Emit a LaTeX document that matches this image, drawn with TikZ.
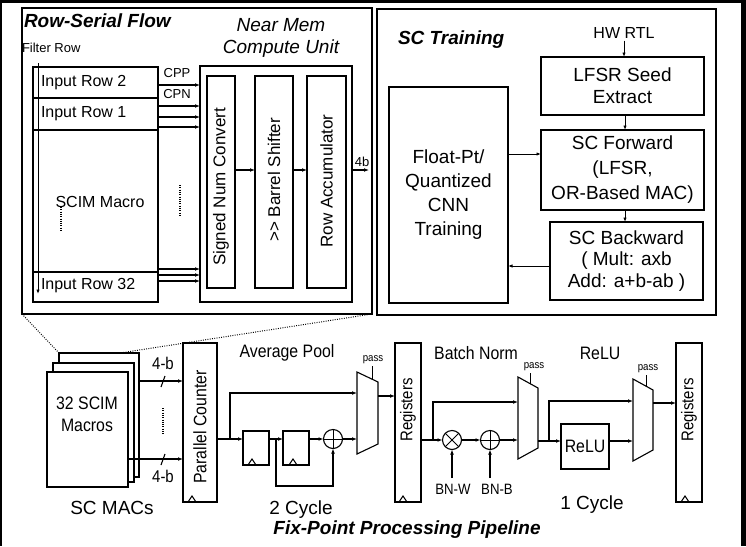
\documentclass[tikz,border=0pt]{standalone}
\usepackage{fontspec}
\setmainfont{Liberation Sans}
\usetikzlibrary{arrows.meta,fit}
\newcommand\fs[2]{\fontsize{#1}{#2}\selectfont}
\newcommand\narrow[1]{\scalebox{0.88}[1]{#1}}
\begin{document}
\begin{tikzpicture}[x=1pt,y=-1pt,line join=miter,
  bx/.style={draw,line width=1.1pt,inner sep=0pt,outer sep=0pt},
  ln/.style={line width=1.1pt},
  arr/.style={line width=1.1pt,-{Latex[length=5pt,width=3.8pt]}},
  thinarr/.style={line width=0.9pt,-{Latex[length=4.5pt,width=3.4pt]}},
  txt/.style={inner sep=0pt,outer sep=0pt},
  dots/.style={line width=1.2pt,dash pattern=on 0.9pt off 1.4pt},
  clk/.style={line width=1pt},
  ttl/.style={txt,font=\fs{19}{22}\bfseries\itshape},
  body/.style={txt,font=\fs{16}{19}},
  big/.style={txt,font=\fs{19}{23},align=center},
  low/.style={txt,font=\fs{18}{21},align=center},
  small/.style={txt,font=\fs{13}{15}},
  tiny/.style={txt,font=\fs{11}{13}},
  sum/.style={draw,circle,line width=1.1pt,minimum size=19pt,inner sep=0pt,outer sep=0pt},
]
\useasboundingbox (0,0) rectangle (746,546);

% outer frame
\fill (0,0) rectangle (746,3);
\fill (741,0) rectangle (746,546);
\draw[line width=1.5pt] (0.75,0) -- (0.75,546);

% ---------------- Row-serial flow panel ----------------
\node[bx,fit={(22,8) (372,314)}] (rsf) {};
\node[ttl,anchor=west] at (24,21) {Row-Serial Flow};
\node[txt,font=\fs{19}{22}\itshape,align=center] at (281,38) {Near Mem\\Compute Unit};
\node[small,anchor=west] at (22,48) {Filter Row};

% SCIM macro with its rows
\node[bx,fit={(33,67) (158,302)}] (mac) {};
\foreach \yy in {98,130,272}
  \draw[ln] (mac.west |- 0,\yy) -- (mac.east |- 0,\yy);
\node[body,anchor=west] at (41,83) {Input Row 2};
\node[body,anchor=west] at (41,114) {Input Row 1};
\node[body] at (100,202) {SCIM Macro};
\node[body,anchor=west] at (41,286) {Input Row 32};
\draw[dots] (61,207) -- (61,231);
\coordinate (fr0) at (38,63);
\coordinate (fr1) at (38,294);
\draw[thinarr] (fr0) -- (fr1);

% near-memory compute unit
\node[bx,fit={(200,66) (352,302)}] (cu) {};
\node[bx,fit={(207,76) (235,288)}] (snc) {};
\node[bx,fit={(255,76) (293,288)}] (bsh) {};
\node[bx,fit={(307,76) (346,288)}] (racc) {};
\node[txt,font=\fs{17}{19},rotate=90] at (221,187) {Signed Num Convert};
\node[txt,font=\fs{17}{19},rotate=90] at (274,180) {>{}> Barrel Shifter};
\node[txt,font=\fs{17}{19},rotate=90] at (326.5,181) {Row Accumulator};
\draw[arr] (snc.east |- 0,170) -- (bsh.west |- 0,170);
\draw[arr] (bsh.east |- 0,170) -- (racc.west |- 0,170);
\coordinate (out4b) at (369,170);
\draw[arr] (cu.east |- 0,170) -- (out4b);
\node[small] at (362,162) {4b};

% row bit-lines into the compute unit
\foreach \yy in {85,106,117,127,269,275,281}
  \draw[arr] (mac.east |- 0,\yy) -- (cu.west |- 0,\yy);
\node[small] at (177,73) {CPP};
\node[small] at (177,94) {CPN};
\draw[dots] (180,185) -- (180,217);

% ---------------- SC training panel ----------------
\node[bx,fit={(377,9) (716,315)}] (sct) {};
\node[ttl,anchor=west] at (398,40) {SC Training};
\node[txt,font=\fs{16}{19}] (hw) at (624,33) {HW RTL};
\node[bx,fit={(541,57) (704,115)}] (lfsr) {};
\node[bx,fit={(541,130) (704,210)}] (fwd) {};
\node[bx,fit={(550,222) (703,300)}] (bwd) {};
\node[bx,fit={(389,87) (508,303)}] (flt) {};
\node[big,font=\fs{19}{22}] at (lfsr.center) {LFSR Seed\\Extract};
\node[big,font=\fs{19}{25}] at (fwd.center) {SC Forward\\(LFSR,\\OR-Based MAC)};
\node[big,font=\fs{19}{21.5}] at (bwd.center) {SC Backward\\( Mult: axb\\Add: a+b-ab )};
\node[big,font=\fs{19}{24}] at (flt.center) {Float-Pt/\\Quantized\\CNN\\Training};
\draw[thinarr] ([yshift=-2pt]hw.south) -- (hw.south |- lfsr.north);
\draw[thinarr] (lfsr.south -| 625,0) -- (fwd.north -| 625,0);
\draw[thinarr] (fwd.south -| 625,0) -- (bwd.north -| 625,0);
\draw[thinarr] (flt.east |- 0,154) -- (fwd.west |- 0,154);
\draw[thinarr] (bwd.west |- 0,266) -- (flt.east |- 0,266);

% ---------------- fixed-point pipeline ----------------
% stacked SC MAC macros
\node[bx,fill=white,fit={(59,353) (139,477)}] (mc3) {};
\node[bx,fill=white,fit={(53,363) (134,482)}] (mc2) {};
\node[bx,fill=white,fit={(47,372) (128,487)}] (mc1) {};
\node[low,font=\fs{18}{22}] at (87,414) {\narrow{32 SCIM}\\\narrow{Macros}};
\node[low,font=\fs{19}{22}] at (112,508) {SC MACs};

% zoom guides from the panel to the macro stack
\coordinate (zA) at (59,353);
\coordinate (zB) at (120,353);
\draw[dots,line width=1pt] (rsf.south west) -- (zA);
\draw[dots,line width=1pt] (rsf.south east) -- (zB);

% parallel counter
\node[bx,fill=white,fit={(183,343) (217,502)}] (pc) {};
\node[txt,font=\fs{18}{20},rotate=90] at (200,427) {\narrow{Parallel Counter}};
\draw[clk] (188,502) -- (192,496) -- (196,502);
\draw[arr] (mc3.east |- 0,381) -- (pc.west |- 0,381);
\draw[arr] (mc1.east |- 0,459) -- (pc.west |- 0,459);
\draw[ln] (161,387) -- (165,376);
\draw[ln] (161,465) -- (165,454);
\node[low,font=\fs{17}{20}] at (163,363) {\narrow{4-b}};
\node[low,font=\fs{17}{20}] at (163,476) {\narrow{4-b}};
\draw[dots] (163,408) -- (163,435);

% average pool
\node[low] at (287,353) {\narrow{Average Pool}};
\node[low,font=\fs{19}{22}] at (301,510) {2 Cycle};
\coordinate (j1) at (230,439);
\node[bx,fit={(243,431) (269,465)}] (ff1) {};
\node[bx,fit={(283,431) (309,465)}] (ff2) {};
\draw[clk] (248,465) -- (252,459) -- (256,465);
\draw[clk] (289,465) -- (293,459) -- (297,465);
\node[sum] (add1) at (333,439) {};
\draw[line width=1pt] (add1.north) -- (add1.south) (add1.west) -- (add1.east);
\coordinate (m1u) at (357,393);
\coordinate (m1l) at (357,439);
\coordinate (m1o) at (378,396);
\draw[ln] (357,372) -- (378,382) -- (378,444) -- (357,454) -- cycle;
\draw[line width=1pt] (372,379) -- (372,366);
\node[tiny] at (373,360) {\narrow{pass}};
\draw[ln] (pc.east |- j1) -- (j1);
\draw[arr] (j1) -- (ff1.west |- j1);
\draw[arr] (j1) |- (m1u);
\coordinate (j2) at (276,439);
\coordinate (fb) at (276,486);
\draw[arr] (ff1.east |- j1) -- (ff2.west |- j1);
\draw[arr] (j2) -- (fb) -| (add1.south);
\draw[arr] (ff2.east |- add1) -- (add1.west);
\draw[arr] (add1.east) -- (m1l);

% first register bank
\node[bx,fit={(395,343) (421,502)}] (reg1) {};
\node[txt,font=\fs{17}{20},rotate=90] at (408,410) {\narrow{Registers}};
\draw[clk] (399,502) -- (403,496) -- (407,502);
\draw[arr] (m1o) -- (reg1.west |- m1o);

% batch norm
\node[low] at (476,353) {\narrow{Batch Norm}};
\coordinate (j3) at (433,440);
\node[sum] (mul) at (452,440) {};
\draw[line width=1pt] (mul.north east) -- (mul.south west) (mul.north west) -- (mul.south east);
\node[sum] (addb) at (490,440) {};
\draw[line width=1pt] (addb.north) -- (addb.south) (addb.west) -- (addb.east);
\coordinate (m2u) at (518,402);
\coordinate (m2l) at (518,440);
\coordinate (m2o) at (538,441);
\draw[ln] (518,377) -- (538,388) -- (538,448) -- (518,459) -- cycle;
\draw[line width=1pt] (530,384) -- (530,373);
\node[tiny] at (534,367) {\narrow{pass}};
\draw[ln] (reg1.east |- j3) -- (j3);
\draw[arr] (j3) -- (mul.west);
\draw[arr] (j3) |- (m2u);
\draw[arr] (mul.east) -- (addb.west);
\draw[arr] (addb.east) -- (m2l);
\coordinate (bnw0) at (452,478);
\coordinate (bnb0) at (490,478);
\draw[arr] (bnw0) -- (mul.south);
\draw[arr] (bnb0) -- (addb.south);
\node[low,font=\fs{15}{18}] at (453,489) {\narrow{BN-W}};
\node[low,font=\fs{15}{18}] at (497,489) {\narrow{BN-B}};

% relu
\node[low] at (600,353) {\narrow{ReLU}};
\node[low,font=\fs{19}{22}] at (592,505) {1 Cycle};
\coordinate (j4) at (549,441);
\node[bx,fit={(561,424) (609,469)}] (relu) {};
\node[txt,font=\fs{18}{20}] at (relu.center) {\narrow{ReLU}};
\coordinate (m3u) at (633,401);
\coordinate (m3l) at (633,441);
\coordinate (m3o) at (653,403);
\draw[ln] (633,379) -- (653,390) -- (653,450) -- (633,461) -- cycle;
\draw[line width=1pt] (646,386) -- (646,375);
\node[tiny] at (648,369) {\narrow{pass}};
\draw[ln] (m2o) -- (j4);
\draw[arr] (j4) -- (relu.west |- j4);
\draw[arr] (j4) |- (m3u);
\draw[arr] (relu.east |- m3l) -- (m3l);

% output register bank
\node[bx,fit={(676,343) (702,502)}] (reg2) {};
\node[txt,font=\fs{17}{20},rotate=90] at (689,410) {\narrow{Registers}};
\draw[clk] (681,502) -- (685,496) -- (689,502);
\draw[arr] (m3o) -- (reg2.west |- m3o);

\node[ttl] at (407,530) {Fix-Point Processing Pipeline};
\end{tikzpicture}
\end{document}
